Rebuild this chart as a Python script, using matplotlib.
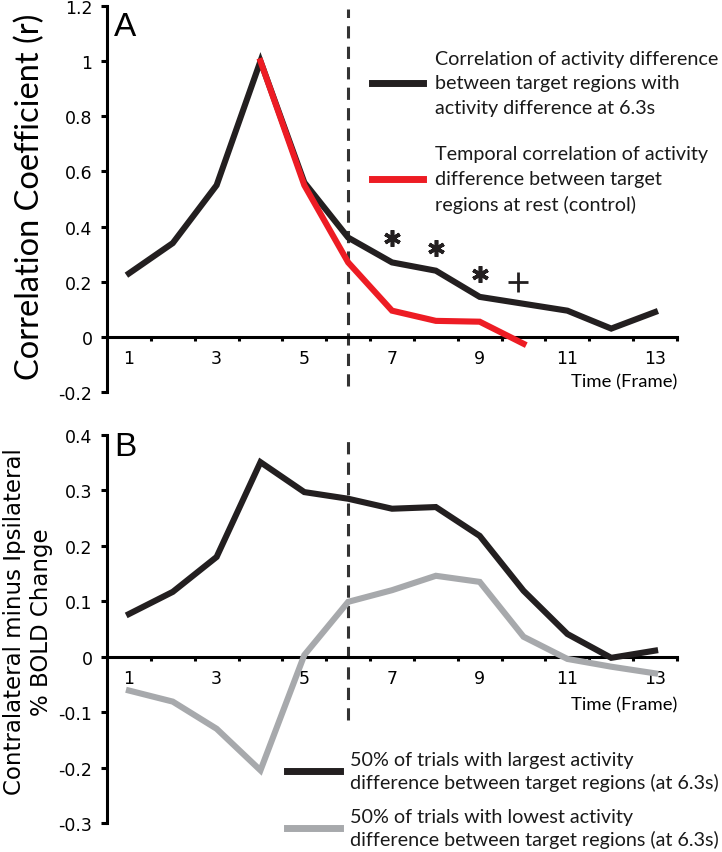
import matplotlib.pyplot as plt
from matplotlib.lines import Line2D

# frame numbers and series values
frames = list(range(1, 14))
corr_task = [0.23, 0.34, 0.55, 1.0, 0.56, 0.36, 0.27, 0.24, 0.145, 0.12, 0.095, 0.03, 0.09]
rest_frames = [4, 5, 6, 7, 8, 9, 10]
corr_rest = [1.0, 0.55, 0.27, 0.095, 0.058, 0.055, -0.025]

bold_high = [0.077, 0.117, 0.18, 0.351, 0.297, 0.285, 0.267, 0.27, 0.218, 0.119, 0.041, -0.002, 0.011]
bold_low = [-0.061, -0.081, -0.13, -0.205, 0.003, 0.099, 0.12, 0.146, 0.135, 0.036, -0.004, -0.018, -0.03]

star_frames = [7, 8, 9]
star_vals = [0.36, 0.322, 0.228]
plus_frame = [9.88]
plus_val = [0.2]

xlabel_frames = [1, 3, 5, 7, 9, 11, 13]
xtick_edges = [1.5, 2.5, 3.5, 4.5, 5.5, 6.5, 7.5, 8.5, 9.5, 10.5, 11.5, 12.5, 13.5]
yticks_a = [-0.2, 0, 0.2, 0.4, 0.6, 0.8, 1.0, 1.2]
ylabels_a = ['-0.2', '0', '0.2', '0.4', '0.6', '0.8', '1', '1.2']
yticks_b = [-0.3, -0.2, -0.1, 0, 0.1, 0.2, 0.3, 0.4]
ylabels_b = ['-0.3', '-0.2', '-0.1', '0', '0.1', '0.2', '0.3', '0.4']

BLACK = '#231f20'
RED = '#ed1c24'
GRAY = '#a7a9ac'
DASH = '#333333'
TXT_FONT = ['Lato', 'DejaVu Sans']

W, H = 722, 853
fig = plt.figure(figsize=(W / 100, H / 100), dpi=100)


def px(x, y):
    return x / W, 1 - y / H


def style_axis(ax, yticks, ylabels, ylim):
    ax.set_xlim(0.5, 13.5)
    ax.set_ylim(*ylim)
    for s in ['top', 'right']:
        ax.spines[s].set_visible(False)
    ax.spines['bottom'].set_position(('data', 0))
    ax.spines['left'].set_linewidth(2.2)
    ax.spines['bottom'].set_linewidth(2.2)
    ax.set_yticks(yticks)
    ax.set_yticklabels(ylabels)
    ax.set_xticks(xtick_edges)
    ax.set_xticklabels([])
    ax.set_xticks(xlabel_frames, minor=True)
    ax.set_xticklabels([str(f) for f in xlabel_frames], minor=True)
    ax.tick_params(axis='y', direction='out', length=4.5, width=2.2, pad=6, labelsize=12.5)
    ax.tick_params(axis='x', which='major', direction='out', length=3, width=2.2)
    ax.tick_params(axis='x', which='minor', length=0, pad=9, labelsize=12.5)
    ax.patch.set_visible(False)


# ---- panel A
axA = fig.add_axes([107 / W, 1 - 393 / H, 570 / W, 386 / H])
style_axis(axA, yticks_a, ylabels_a, (-0.2, 1.2))
axA.vlines(6, -0.18, 1.19, colors=DASH, lw=2.2, linestyles=(0, (4, 2.7)), zorder=1)
axA.plot(frames, corr_task, color=BLACK, lw=4.4, solid_joinstyle='miter', zorder=3)
axA.plot(rest_frames, corr_rest, color=RED, lw=4.4, solid_joinstyle='miter', zorder=4)
axA.plot(star_frames, star_vals, ls='none', marker=(6, 2, 0), ms=12, mew=2.6, color=BLACK)
axA.plot(plus_frame, plus_val, ls='none', marker='+', ms=15, mew=2, color=BLACK)

# ---- panel B
axB = fig.add_axes([107 / W, 1 - 824 / H, 570 / W, 388 / H])
style_axis(axB, yticks_b, ylabels_b, (-0.3, 0.4))
axB.vlines(6, -0.115, 0.39, colors=DASH, lw=2.2, linestyles=(0, (4, 2.7)), zorder=1)
axB.plot(frames, bold_high, color=BLACK, lw=4.4, solid_joinstyle='miter', zorder=3)
axB.plot(frames, bold_low, color=GRAY, lw=4.4, solid_joinstyle='miter', zorder=4)

# panel letters
fig.text(*px(125, 27), 'A', fontsize=24, family='Liberation Sans', ha='center', va='center')
fig.text(*px(125, 448), 'B', fontsize=24, family='Liberation Sans', ha='center', va='center')

# axis labels
fig.text(*px(30, 197), 'Correlation Coefficient (r)', rotation=90, fontsize=23.5,
         family=TXT_FONT, ha='center', va='center')
fig.text(*px(28, 622), 'Contralateral minus Ipsilateral\n% BOLD Change', rotation=90,
         fontsize=16.5, ha='center', va='center', linespacing=1.25, multialignment='center')
fig.text(*px(677, 382), 'Time (Frame)', fontsize=13.3, family=TXT_FONT, ha='right', va='center')
fig.text(*px(677, 705), 'Time (Frame)', fontsize=13.3, family=TXT_FONT, ha='right', va='center')

# legends drawn by hand
legend_a = [
    (84, BLACK, 'Correlation of activity difference\nbetween target regions with\nactivity difference at 6.3s'),
    (180, RED, 'Temporal correlation of activity\ndifference between target\nregions at rest (control)'),
]
for y, c, label in legend_a:
    x0, yy = px(372, y)
    x1, _ = px(423, y)
    fig.add_artist(Line2D([x0, x1], [yy, yy], color=c, lw=5, transform=fig.transFigure))
    fig.text(*px(435, y), label, fontsize=14.2, family=TXT_FONT, ha='left', va='center',
             linespacing=1.55, color='#1a1a1a')

legend_b = [
    (772, BLACK, '50% of trials with largest activity\ndifference between target regions (at 6.3s)'),
    (829, GRAY, '50% of trials with lowest activity\ndifference between target regions (at 6.3s)'),
]
for y, c, label in legend_b:
    x0, yy = px(287, y)
    x1, _ = px(340, y)
    fig.add_artist(Line2D([x0, x1], [yy, yy], color=c, lw=5, transform=fig.transFigure))
    fig.text(*px(350, y), label, fontsize=14.2, family=TXT_FONT, ha='left', va='center',
             linespacing=1.3, color='#1a1a1a')

fig.savefig('out.png', dpi=100)
